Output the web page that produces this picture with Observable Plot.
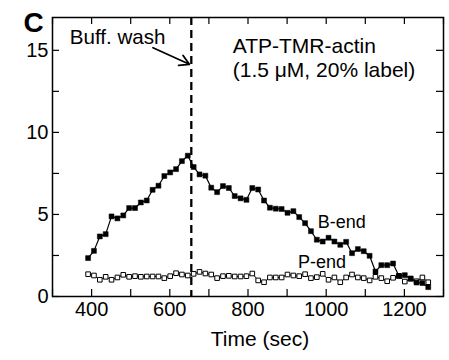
<!DOCTYPE html>
<html><head><meta charset="utf-8">
<script src="https://cdn.jsdelivr.net/npm/d3@7"></script>
<script src="https://cdn.jsdelivr.net/npm/@observablehq/plot@0.6"></script>
<style>body{margin:0;background:#fff;} svg{display:block}</style>
</head><body><div id="chart"></div>
<script>
const times = [391, 406, 421, 436, 451, 466, 481, 496, 511, 526, 541, 556, 571, 586, 601, 616, 631, 646, 661, 676, 691, 706, 721, 736, 751, 766, 781, 796, 811, 826, 841, 856, 871, 886, 901, 916, 931, 946, 961, 976, 991, 1006, 1021, 1036, 1051, 1066, 1081, 1096, 1111, 1126, 1141, 1156, 1171, 1186, 1201, 1216, 1231, 1246, 1261];
const bEnd = [2.34,2.78,3.66,3.80,4.88,4.76,4.94,5.39,5.39,5.73,5.85,6.50,6.75,7.34,7.56,7.76,8.25,8.58,7.89,7.44,7.36,6.63,6.36,6.73,6.61,6.12,5.98,5.89,6.61,6.52,5.85,5.41,5.35,5.33,5.10,5.20,4.84,4.47,3.98,3.46,3.35,3.58,3.35,3.15,3.33,2.64,2.89,2.76,2.48,1.52,1.91,1.91,2.01,1.25,1.30,1.10,0.85,0.82,0.57];
const pEnd = [1.36,1.28,1.02,1.20,1.02,1.16,1.32,1.20,1.24,1.20,1.22,1.22,1.22,1.12,1.24,1.42,1.34,1.28,1.38,1.50,1.40,1.34,1.12,1.24,1.26,1.22,1.22,1.24,1.40,0.98,0.87,1.16,1.16,1.16,1.34,1.28,1.24,1.36,1.12,1.18,1.38,1.02,1.16,0.87,1.16,1.34,1.16,1.12,0.98,1.20,1.12,0.93,1.14,1.26,0.91,1.08,0.93,1.16,0.87];
const xTicks = [300,400,500,600,700,800,900,1000,1100,1200,1300];
const xTickLabels = [400,600,800,1000,1200];
const yTicks = [0,2.5,5,7.5,10,12.5,15];
const yTickLabels = [0,5,10,15];
const washTime = [655];

const rows = times.map((t, i) => ({t, b: bEnd[i], p: pEnd[i]}));

const W = 449, H = 360;
const mL = 52, mR = 6, mT = 17, mB = 64;
const fw = W - mL - mR, fh = H - mT - mB;
const tl = 7;
const font = "'Liberation Sans', Arial, sans-serif";

const chart = Plot.plot({
  width: W, height: H,
  marginLeft: mL, marginRight: mR, marginTop: mT, marginBottom: mB,
  style: {fontFamily: font, fontSize: "20px", color: "black", background: "white"},
  x: {domain: [300, 1300]},
  y: {domain: [0, 17]},
  marks: [
    Plot.tickX(xTicks, {x: d => d, insetTop: fh - tl, stroke: "black", strokeWidth: 1.2}),
    Plot.tickX(xTicks, {x: d => d, insetBottom: fh - tl, stroke: "black", strokeWidth: 1.2}),
    Plot.tickY(yTicks, {y: d => d, insetRight: fw - tl, stroke: "black", strokeWidth: 1.2}),
    Plot.tickY(yTicks, {y: d => d, insetLeft: fw - tl, stroke: "black", strokeWidth: 1.2}),
    Plot.axisX(xTickLabels, {tickSize: 0, tickPadding: 5, fontSize: 20, tickFormat: d => String(d), label: null}),
    Plot.axisY(yTickLabels, {tickSize: 0, tickPadding: 4, fontSize: 20, tickFormat: d => String(d), label: null}),
    Plot.ruleX(washTime, {x: d => d, stroke: "black", strokeWidth: 2.3, strokeDasharray: "8,5"}),
    Plot.line(rows, {x: "t", y: "p", stroke: "black", strokeWidth: 1}),
    Plot.line(rows, {x: "t", y: "b", stroke: "black", strokeWidth: 1.2}),
    Plot.dot(rows, {x: "t", y: "p", symbol: "square", r: 2.6, fill: "white", stroke: "black", strokeWidth: 1}),
    Plot.dot(rows, {x: "t", y: "b", symbol: "square", r: 2.8, fill: "black", stroke: "black", strokeWidth: 0.5}),
    Plot.frame({stroke: "black", strokeWidth: 1.5}),
    Plot.text(["C"], {text: d => d, frameAnchor: "top-left", dx: -29, dy: 6, textAnchor: "start", lineAnchor: "middle", fontSize: 28, fontWeight: "bold"}),
    Plot.text(["Buff. wash"], {text: d => d, x: 344, y: 15.8, textAnchor: "start", lineAnchor: "middle", fontSize: 20.6}),
    Plot.arrow([0], {x1: 557, y1: 15.16, x2: 650, y2: 14.15, headLength: 9, strokeWidth: 1.8, stroke: "black"}),
    Plot.text(["ATP-TMR-actin\n(1.5 μM, 20% label)"], {text: d => d, x: 761, y: 15.87, textAnchor: "start", lineAnchor: "top", lineHeight: 1.15, fontSize: 21}),
    Plot.text(["B-end"], {text: d => d, x: 1040, y: 4.53, lineAnchor: "middle", fontSize: 18}),
    Plot.text(["P-end"], {text: d => d, x: 989, y: 2.09, lineAnchor: "middle", fontSize: 18}),
    Plot.text(["Time (sec)"], {text: d => d, frameAnchor: "bottom", dx: 12, dy: 42.6, lineAnchor: "middle", fontSize: 21})
  ]
});
document.getElementById("chart").appendChild(chart);
</script>
</body></html>
